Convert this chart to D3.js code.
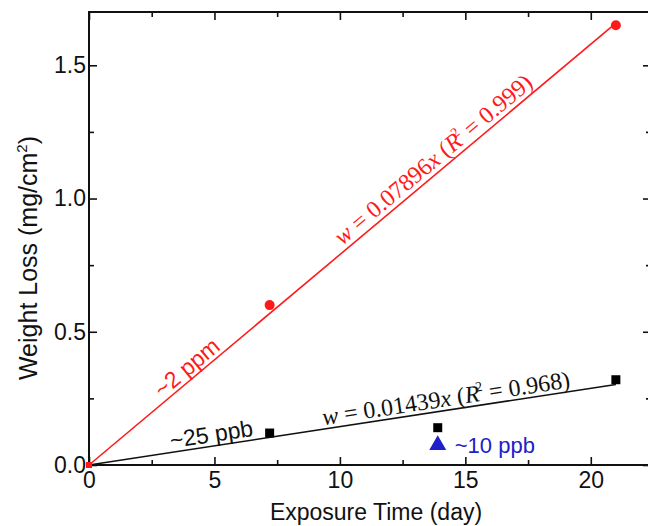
<!DOCTYPE html>
<html>
<head>
<meta charset="utf-8">
<script src="https://cdn.jsdelivr.net/npm/d3@7/dist/d3.min.js"></script>
<style>
  body { margin: 0; background: #fff; }
  svg { display: block; }
</style>
</head>
<body>
<script>
// measured points (day, mg/cm2)
var days_2ppm = [7.2, 21.0];
var loss_2ppm = [0.60, 1.65];
var days_25ppb = [7.2, 13.9, 21.0];
var loss_25ppb = [0.12, 0.14, 0.32];
var days_10ppb = [13.9];
var loss_10ppb = [0.075];

// linear fits through origin
var fit_slope = [0.07896, 0.01439];
var fit_label = ['0.07896', '0.01439'];
var fit_r2 = ['0.999', '0.968'];
var fit_days = [0, 21];

var x_major = [0, 5, 10, 15, 20];
var x_minor = [2.5, 7.5, 12.5, 17.5];
var y_major = [0, 0.5, 1.0, 1.5];
var y_minor = [0.25, 0.75, 1.25];

var width = 648, height = 526;
var sans = "'Liberation Sans', Arial, sans-serif";
var serif = "'Liberation Serif', 'Times New Roman', serif";
var red = '#ff1a1a', blue = '#2020c8';

var x = d3.scaleLinear().domain([0, 22.4]).range([89, 651]);
var y = d3.scaleLinear().domain([0, 1.7]).range([465, 12]);

var svg = d3.select('body').append('svg')
    .attr('width', width)
    .attr('height', height);

// frame
svg.append('rect')
    .attr('x', x.range()[0]).attr('y', y.range()[1])
    .attr('width', x.range()[1] - x.range()[0])
    .attr('height', y.range()[0] - y.range()[1])
    .attr('fill', 'none').attr('stroke', '#111').attr('stroke-width', 2);

function styleAxis(g) {
    g.select('.domain').remove();
    g.selectAll('.tick line').attr('stroke', '#111').attr('stroke-width', 1.6);
    g.selectAll('.tick text').attr('fill', '#111')
        .style('font-family', sans).style('font-size', '23px');
}

// bottom
svg.append('g').attr('transform', 'translate(0,' + y(0) + ')')
    .call(d3.axisBottom(x).tickValues(x_major).tickSize(-8).tickPadding(7).tickFormat(d3.format('d')))
    .call(styleAxis);
svg.append('g').attr('transform', 'translate(0,' + y(0) + ')')
    .call(d3.axisBottom(x).tickValues(x_minor).tickSize(-5).tickFormat(''))
    .call(styleAxis);
// top
svg.append('g').attr('transform', 'translate(0,' + y.range()[1] + ')')
    .call(d3.axisTop(x).tickValues(x_major).tickSize(-8).tickFormat(''))
    .call(styleAxis);
svg.append('g').attr('transform', 'translate(0,' + y.range()[1] + ')')
    .call(d3.axisTop(x).tickValues(x_minor).tickSize(-5).tickFormat(''))
    .call(styleAxis);
// left
svg.append('g').attr('transform', 'translate(' + x(0) + ',0)')
    .call(d3.axisLeft(y).tickValues(y_major).tickSize(-8).tickPadding(3).tickFormat(d3.format('.1f')))
    .call(styleAxis);
svg.append('g').attr('transform', 'translate(' + x(0) + ',0)')
    .call(d3.axisLeft(y).tickValues(y_minor).tickSize(-5).tickFormat(''))
    .call(styleAxis);
// right
svg.append('g').attr('transform', 'translate(' + x.range()[1] + ',0)')
    .call(d3.axisRight(y).tickValues(y_major).tickSize(-8).tickFormat(''))
    .call(styleAxis);
svg.append('g').attr('transform', 'translate(' + x.range()[1] + ',0)')
    .call(d3.axisRight(y).tickValues(y_minor).tickSize(-5).tickFormat(''))
    .call(styleAxis);

// axis titles
svg.append('text')
    .attr('x', (x.range()[0] + x.range()[1]) / 2 + 6).attr('y', 520)
    .attr('text-anchor', 'middle')
    .style('font-family', sans).style('font-size', '23px').attr('fill', '#111')
    .text('Exposure Time (day)');

var ytitle = svg.append('text')
    .attr('transform', 'translate(37,258) rotate(-90)')
    .attr('text-anchor', 'middle')
    .style('font-family', sans).style('font-size', '25px').attr('fill', '#111');
ytitle.append('tspan').text('Weight Loss (mg/cm');
ytitle.append('tspan').attr('dy', -10).style('font-size', '15px').text('2');
ytitle.append('tspan').attr('dy', 10).text(')');

// fit lines
var colors = [red, '#111'];
fit_slope.forEach(function(k, i) {
    var line = d3.line().x(function(d) { return x(d); }).y(function(d) { return y(k * d); });
    svg.append('path').datum(fit_days)
        .attr('d', line)
        .attr('fill', 'none')
        .attr('stroke', colors[i])
        .attr('stroke-width', 1.6);
});

function onLine(k, day, offset) {
    var a = Math.atan2(y(k * fit_days[1]) - y(0), x(fit_days[1]) - x(0)) * 180 / Math.PI;
    return 'translate(' + x(day) + ',' + y(k * day) + ') rotate(' + a + ') translate(0,' + (-offset) + ')';
}

function equation(i, day, offset) {
    var t = svg.append('text')
        .attr('transform', onLine(fit_slope[i], day, offset))
        .attr('text-anchor', 'middle')
        .style('font-family', serif).style('font-size', '24px')
        .attr('fill', colors[i]);
    t.append('tspan').style('font-style', 'italic').text('w');
    t.append('tspan').text(' = ' + fit_label[i]);
    t.append('tspan').style('font-style', 'italic').text('x');
    t.append('tspan').text(' (');
    t.append('tspan').style('font-style', 'italic').text('R');
    t.append('tspan').attr('dy', -10).attr('dx', -3).style('font-size', '14px').text('2');
    t.append('tspan').attr('dy', 10).text(' = ' + fit_r2[i] + ')');
}
equation(0, 14.05, 5);
equation(1, 14.3, 4);

// labels
svg.append('text')
    .attr('transform', onLine(fit_slope[0], 4.2, 4))
    .attr('text-anchor', 'middle')
    .style('font-family', sans).style('font-size', '23px').attr('fill', red)
    .text('~2 ppm');
svg.append('text')
    .attr('transform', onLine(fit_slope[1], 4.95, 4))
    .attr('text-anchor', 'middle')
    .style('font-family', sans).style('font-size', '23px').attr('fill', '#111')
    .text('~25 ppb');
svg.append('text')
    .attr('x', x(days_10ppb[0]) + 17).attr('y', y(loss_10ppb[0]) + 8)
    .style('font-family', sans).style('font-size', '22px').attr('fill', blue)
    .text('~10 ppb');

// markers
svg.append('rect')
    .attr('x', x(0) - 3).attr('y', y(0) - 3)
    .attr('width', 6).attr('height', 6).attr('fill', red);

svg.selectAll('circle.ppm').data(days_2ppm).enter().append('circle')
    .attr('class', 'ppm')
    .attr('cx', function(d) { return x(d); })
    .attr('cy', function(d, i) { return y(loss_2ppm[i]); })
    .attr('r', 5).attr('fill', red);

svg.selectAll('rect.ppb25').data(days_25ppb).enter().append('rect')
    .attr('class', 'ppb25')
    .attr('x', function(d) { return x(d) - 4.5; })
    .attr('y', function(d, i) { return y(loss_25ppb[i]) - 4.5; })
    .attr('width', 9).attr('height', 9).attr('fill', '#000');

svg.selectAll('path.ppb10').data(days_10ppb).enter().append('path')
    .attr('class', 'ppb10')
    .attr('transform', function(d, i) { return 'translate(' + x(d) + ',' + y(loss_10ppb[i]) + ')'; })
    .attr('d', d3.symbol().type(d3.symbolTriangle).size(125))
    .attr('fill', blue);
</script>
</body>
</html>
